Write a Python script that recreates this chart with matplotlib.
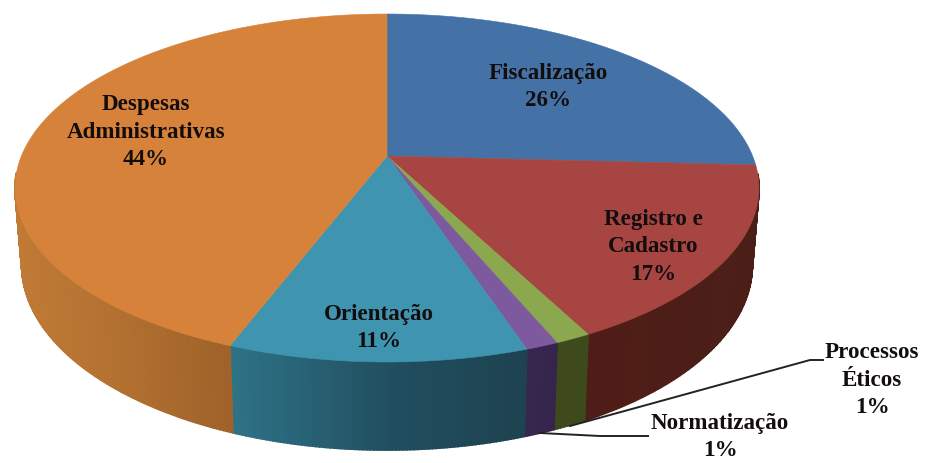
import matplotlib
matplotlib.use("Agg")
import matplotlib.pyplot as plt
import matplotlib.colors as mcolors
import numpy as np

# fatias em sentido horario a partir do topo
labels = ["Fiscalização", "Registro e\nCadastro", "", "", "Orientação", "Despesas\nAdministrativas"]
values = [25.84, 16.55, 1.3, 1.2, 10.9, 44.21]

# rotulos externos com linha
processos_label = "Processos\nÉticos"
normatizacao_label = "Normatização"

top_colors = ["#4472A6", "#A64542", "#8CA84F", "#7D5A9E", "#3F95B0", "#D7823A"]
# cor da parede: (x de tela, cor)
wall_stops = [
    [(387, "#33557A"), (760, "#33557A")],
    [(587, "#4F1D17"), (755, "#4B1F18")],
    [(555, "#3F4A1C"), (587, "#3D4A1C")],
    [(527, "#38264F"), (555, "#35254C")],
    [(233, "#2E7286"), (390, "#214F60"), (527, "#1E4250")],
    [(15, "#C07A36"), (120, "#B27030"), (233, "#9F612A")],
]
label_pos = [(548, 87), (653, 247), None, None, (379, 328), (146, 132)]

# projecao do circulo nas elipses de cima e de baixo
K = 0.1839
CX = 387
TOP = (365.6, 168.1, 156)
BOTTOM = (359.0, 178.7, 231)


def project(t, geo):
    A, B, cy = geo
    u = np.sin(t)
    v = np.cos(t)
    d = 1 + K * v
    return CX + A * u / d, cy - B * v / d


def wall_color(x, stops):
    xs = [s[0] for s in stops]
    rgb = np.array([mcolors.to_rgb(s[1]) for s in stops])
    return [np.interp(x, xs, rgb[:, i]) for i in range(3)]


fig = plt.figure(figsize=(9.25, 4.63), dpi=100)
ax = fig.add_axes([0, 0, 1, 1])
ax.set_xlim(0, 925)
ax.set_ylim(463, 0)
ax.axis("off")

edges = np.cumsum([0] + values) / sum(values) * 2 * np.pi

# paredes primeiro, so a parte da frente
for i in range(len(values)):
    n = max(int((edges[i + 1] - edges[i]) * 120), 3)
    ts = np.linspace(edges[i], edges[i + 1], n + 1)
    for t0, t1 in zip(ts[:-1], ts[1:]):
        if np.cos((t0 + t1) / 2) > -0.1:
            continue
        x0, y0 = project(t0, TOP)
        x1, y1 = project(t1, TOP)
        x2, y2 = project(t1, BOTTOM)
        x3, y3 = project(t0, BOTTOM)
        c = wall_color((x0 + x1) / 2, wall_stops[i])
        ax.fill([x0, x1, x2, x3], [y0, y1, y2, y3], color=c, lw=1.3, zorder=2)

# face de cima
for i in range(len(values)):
    ts = np.linspace(edges[i], edges[i + 1], 200)
    xs, ys = project(ts, TOP)
    ax.fill(np.r_[CX, xs], np.r_[TOP[2], ys], color=top_colors[i], lw=0.4, zorder=3)

font = dict(family="Liberation Serif", fontweight="bold", fontsize=16.6, color="#140d0d",
            ha="center", va="center", linespacing=1.43, zorder=5)

for i in range(len(values)):
    if label_pos[i] is None:
        continue
    ax.text(label_pos[i][0], label_pos[i][1], "%s\n%d%%" % (labels[i], round(values[i])), **font)

ax.text(872, 380, "%s\n%d%%" % (processos_label, round(values[2])), **font)
ax.text(720, 437, "%s\n%d%%" % (normatizacao_label, round(values[3])), **font)

# linhas de chamada
ax.plot([823, 810, 570], [360, 360, 426], color="#222222", lw=1.4, zorder=4)
ax.plot([648, 600, 540], [436, 436, 433], color="#222222", lw=1.4, zorder=4)

fig.savefig("out.png", dpi=100)
